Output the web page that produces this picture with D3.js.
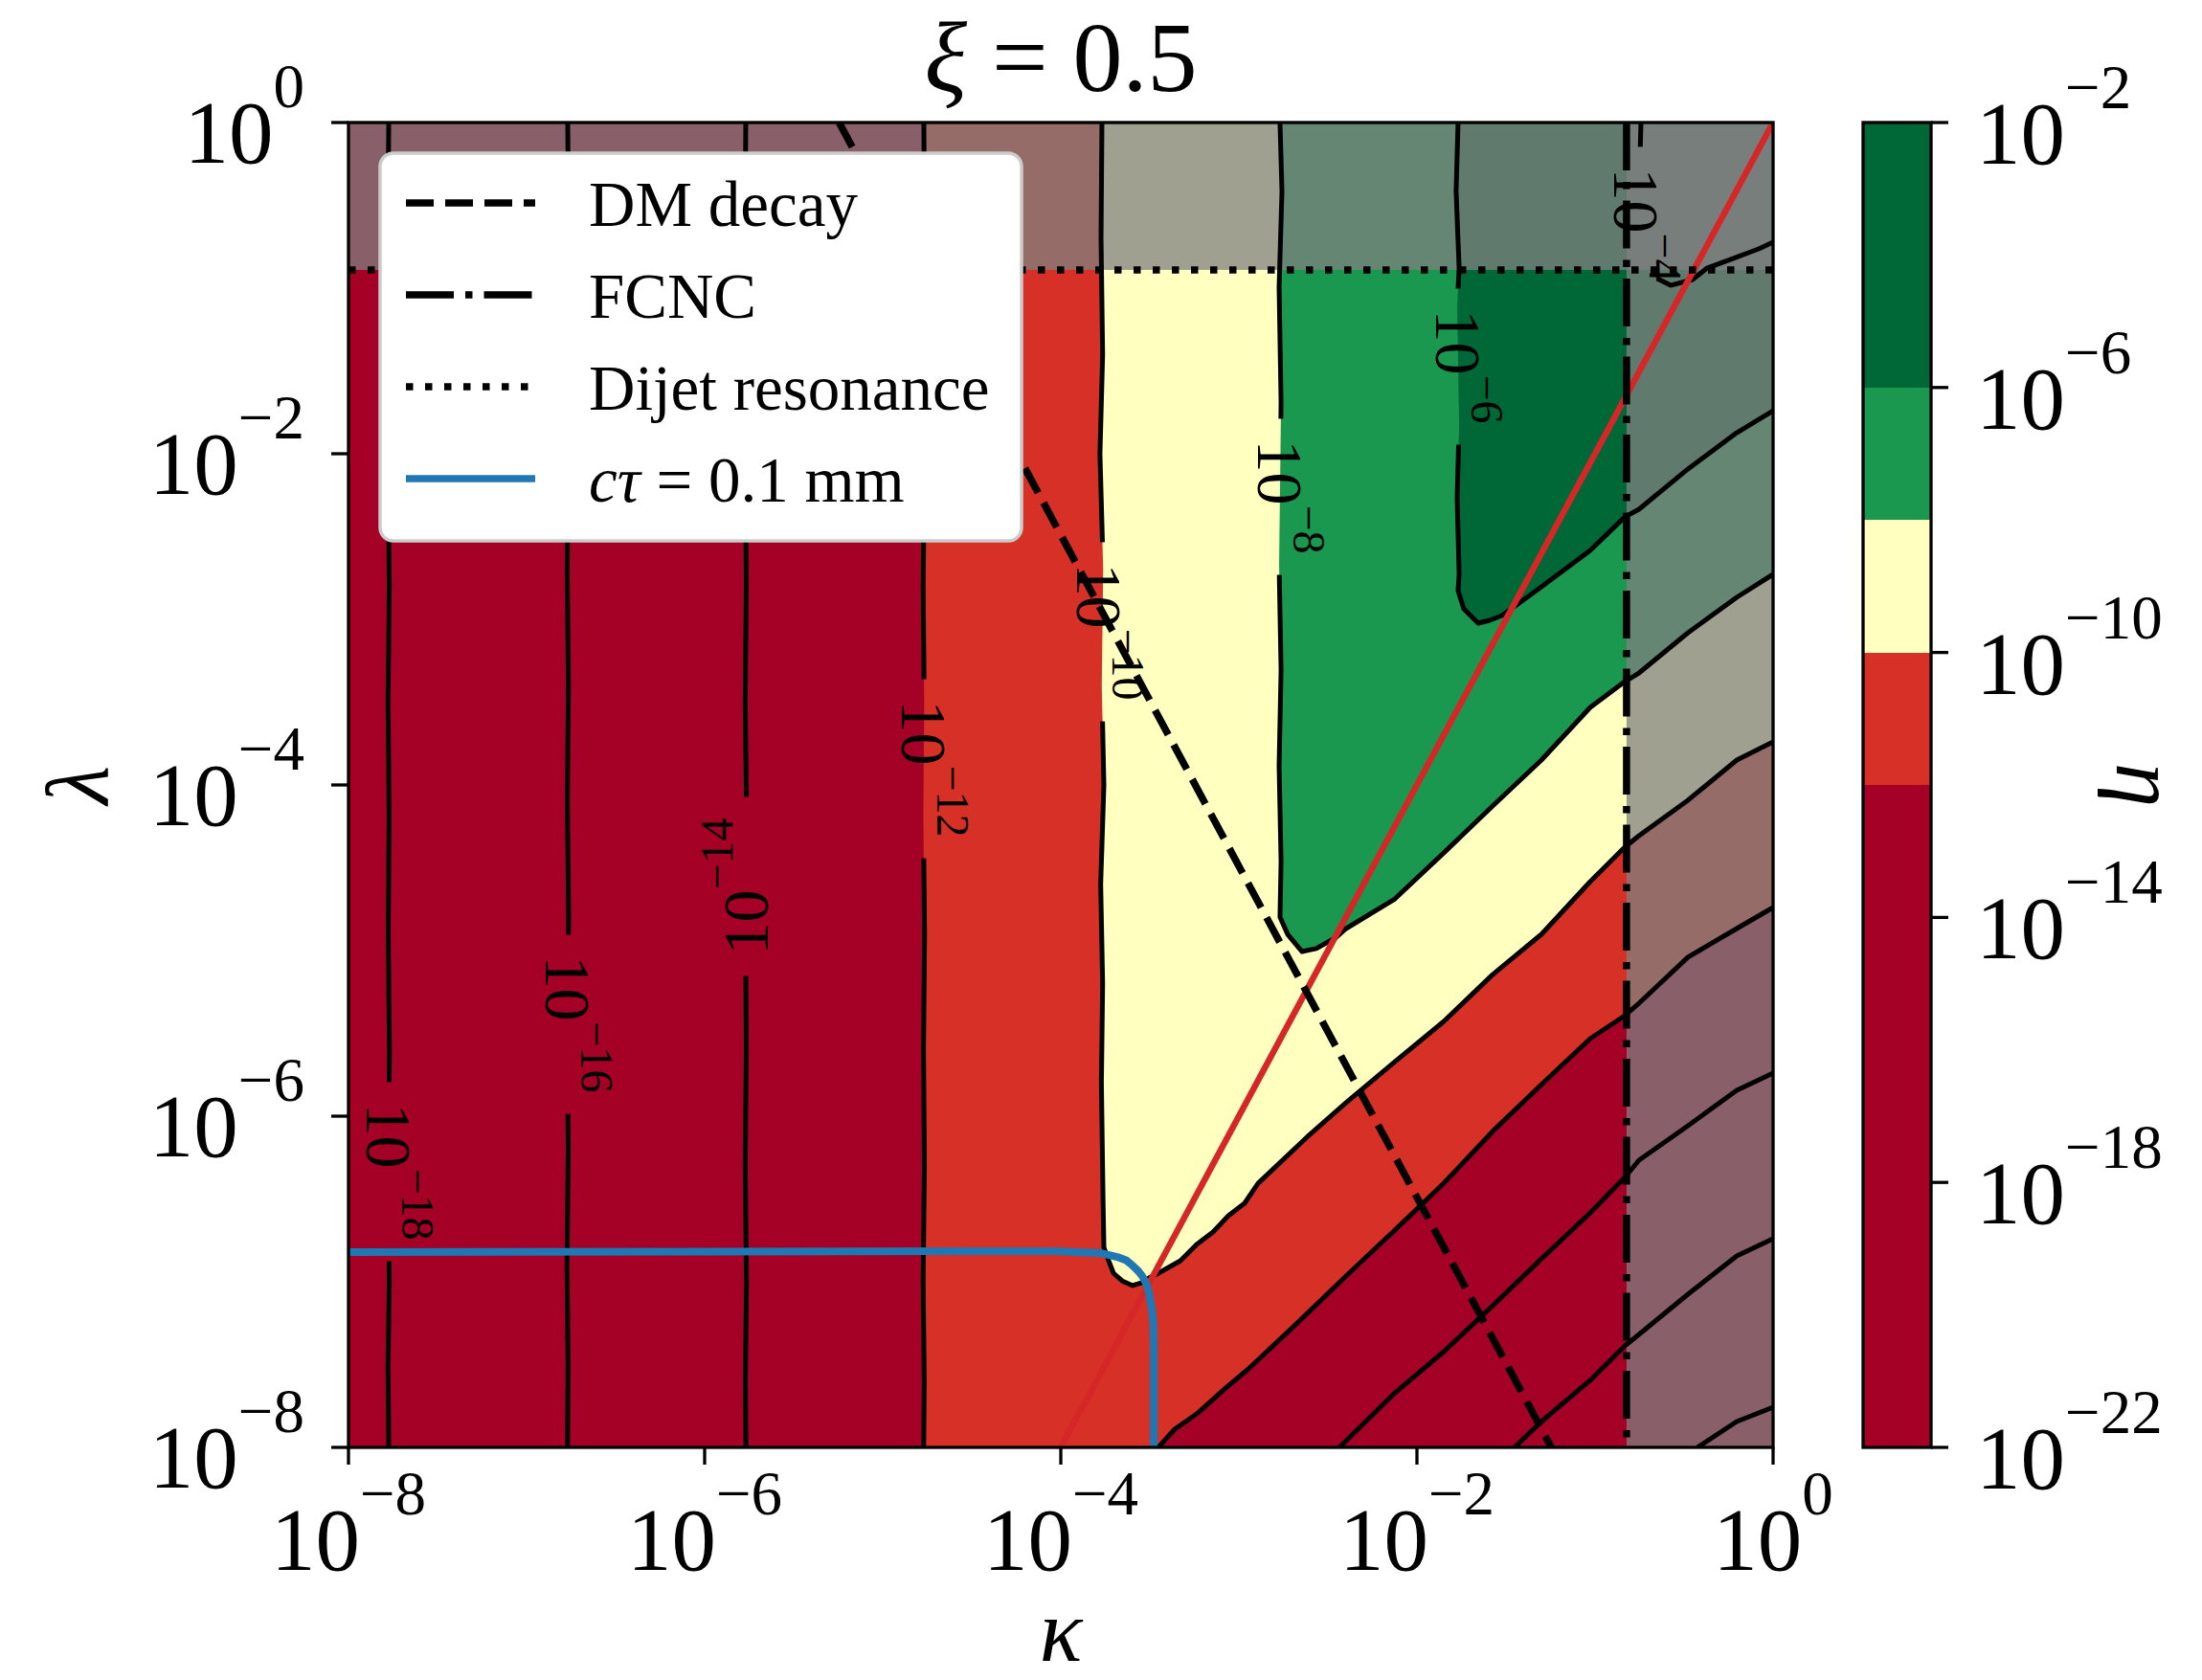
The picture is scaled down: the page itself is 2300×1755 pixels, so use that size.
<!DOCTYPE html>
<html>
<head>
<meta charset="utf-8">
<script src="https://cdn.jsdelivr.net/npm/d3@7"></script>
<style>
  body { margin: 0; background: #fff; }
  svg { display: block; }
  text { font-family: "Liberation Serif", "Times New Roman", serif; fill: #000; }
</style>
</head>
<body>
<svg id="chart" width="2300" height="1755"></svg>
<script>
// all positions below are log10 exponents: [log10 kappa, log10 lambda]
const kappaTicks = [-8, -6, -4, -2, 0];
const lambdaTicks = [-8, -6, -4, -2, 0];
const etaTicks = [-2, -6, -10, -14, -18, -22];
const bandEdges = [-22, -12, -10, -8, -6, -2];
const bandColors = ["#a50026", "#d73027", "#ffffbf", "#1a9850", "#006837"];

// contour lines of eta
const c18v = [[-7.774,0],[-7.779,-0.7],[-7.770,-1.4],[-7.777,-2.1],[-7.771,-2.8],[-7.778,-3.5],[-7.772,-4.2],[-7.777,-4.9],[-7.770,-5.6],[-7.776,-6.3],[-7.771,-7.0],[-7.778,-7.5],[-7.774,-8]];
const c18d = [[-0.425,-8],[-0.204,-7.844],[0,-7.757]];
const c16v = [[-6.769,0],[-6.764,-0.6],[-6.773,-1.3],[-6.766,-2.0],[-6.772,-2.7],[-6.765,-3.4],[-6.771,-4.1],[-6.764,-4.8],[-6.772,-5.5],[-6.766,-6.2],[-6.773,-6.9],[-6.767,-7.5],[-6.770,-8]];
const c16d = [[-1.452,-8],[-1.301,-7.844],[-1.027,-7.595],[-0.833,-7.387],[-0.753,-7.318],[-0.478,-7.075],[-0.204,-6.844],[0,-6.740]];
const c14v = [[-5.769,0],[-5.773,-0.7],[-5.765,-1.4],[-5.771,-2.1],[-5.766,-2.8],[-5.772,-3.5],[-5.764,-4.2],[-5.770,-4.9],[-5.766,-5.6],[-5.772,-6.3],[-5.765,-7.0],[-5.771,-7.6],[-5.768,-8]];
const c14d = [[-2.435,-8],[-2.124,-7.671],[-1.849,-7.422],[-1.575,-7.145],[-1.301,-6.861],[-1.027,-6.584],[-0.833,-6.370],[-0.753,-6.266],[-0.478,-6.058],[-0.204,-5.844],[0,-5.740]];
const c12v = [[-4.769,0],[-4.765,-0.7],[-4.772,-1.4],[-4.766,-2.1],[-4.773,-2.8],[-4.767,-3.5],[-4.772,-4.2],[-4.765,-4.9],[-4.771,-5.6],[-4.766,-6.3],[-4.773,-7.0],[-4.767,-7.6],[-4.770,-8]];
const c12d = [[-3.452,-8],[-3.360,-7.890],[-3.237,-7.798],[-3.075,-7.642],[-2.946,-7.526],[-2.672,-7.249],[-2.398,-6.965],[-2.124,-6.688],[-1.849,-6.405],[-1.575,-6.092],[-1.301,-5.809],[-1.027,-5.532],[-0.833,-5.393],[-0.753,-5.318],[-0.478,-5.040],[-0.204,-4.867],[0,-4.740]];
const c10 = [[-3.769,0],[-3.774,-0.7],[-3.765,-1.4],[-3.780,-2.0],[-3.762,-2.7],[-3.770,-3.4],[-3.758,-4.0],[-3.776,-4.6],[-3.765,-5.2],[-3.772,-5.8],[-3.763,-6.486],[-3.758,-6.792],[-3.731,-6.873],[-3.704,-6.948],[-3.656,-6.994],[-3.597,-7.023],[-3.548,-7.006],[-3.505,-6.977],[-3.452,-6.948],[-3.328,-6.873],[-3.237,-6.775],[-3.145,-6.699],[-3.059,-6.601],[-2.968,-6.526],[-2.892,-6.405],[-2.618,-6.127],[-2.398,-5.919],[-2.124,-5.671],[-1.849,-5.428],[-1.575,-5.145],[-1.301,-4.902],[-1.027,-4.584],[-0.833,-4.376],[-0.753,-4.306],[-0.478,-4.092],[-0.204,-3.850],[0,-3.740]];
const c8 = [[-2.769,0],[-2.758,-0.416],[-2.774,-0.994],[-2.763,-1.688],[-2.774,-2.671],[-2.763,-3.306],[-2.774,-3.884],[-2.763,-4.462],[-2.769,-4.798],[-2.726,-4.902],[-2.645,-5.006],[-2.565,-4.988],[-2.452,-4.919],[-2.398,-4.867],[-2.124,-4.688],[-1.849,-4.410],[-1.575,-4.127],[-1.301,-3.850],[-1.027,-3.532],[-0.833,-3.376],[-0.753,-3.324],[-0.478,-3.081],[-0.204,-2.867],[0,-2.728]];
const c6 = [[-1.769,0],[-1.780,-0.416],[-1.763,-0.879],[-1.774,-1.110],[-1.763,-1.832],[-1.774,-2.266],[-1.763,-2.728],[-1.769,-2.827],[-1.737,-2.936],[-1.656,-3.023],[-1.591,-3.006],[-1.522,-2.977],[-1.301,-2.803],[-1.027,-2.584],[-0.833,-2.382],[-0.753,-2.335],[-0.478,-2.092],[-0.204,-1.873],[0,-1.740]];
const c4 = [[-0.742,0],[-0.747,-0.197],[-0.731,-0.705],[-0.683,-0.925],[-0.575,-0.983],[-0.452,-0.948],[-0.371,-0.879],[-0.226,-0.821],[-0.081,-0.763],[0,-0.723]];

const contourLevels = [-18, -16, -14, -12, -10, -8, -6, -4];
const contourPieces = [[c18v, c18d], [c16v, c16d], [c14v, c14d], [c12v, c12d], [c10], [c8], [c6], [c4]];
const labelPoints = [[-7.774,-6.335],[-6.769,-5.445],[-5.769,-4.613],[-4.769,-3.902],[-3.785,-3.075],[-2.769,-2.260],[-1.769,-1.474],[-0.769,-0.618]];
const labelRotation = [90, 90, -90, 90, 90, 90, 90, 90];

// constraint lines
const dmDecay = [[-5.245,0],[-1.245,-8]];
const fcncKappa = -0.823;
const dijetLambda = -0.89;
const redLine = [[-4,-8],[0,0]];
const lifetime = [[-8,-6.821],[-4.043,-6.815],[-3.774,-6.827],[-3.683,-6.850],[-3.630,-6.872],[-3.597,-6.902],[-3.565,-6.935],[-3.543,-6.965],[-3.520,-7.010],[-3.505,-7.064],[-3.489,-7.162],[-3.480,-7.254],[-3.478,-7.40],[-3.478,-8]];

const legendNames = ["DM decay", "FCNC", "Dijet resonance", "cτ = 0.1 mm"];

const W = 2300, H = 1755;
const pL = 364, pR = 1852, pT = 128, pB = 1512;
const svg = d3.select("#chart");
const defs = svg.append("defs");

const x = d3.scaleLog().domain([1e-8, 1]).range([pL, pR]);
const y = d3.scaleLog().domain([1e-8, 1]).range([pB, pT]);
const px = e => x(Math.pow(10, e));
const py = e => y(Math.pow(10, e));
const line = d3.line().x(d => px(d[0])).y(d => py(d[1]));
const minus = e => e === 0 ? "0" : "\u2212" + Math.abs(e);

function mathLabel(sel, exp, fs, efs, raise) {
  sel.append("tspan").attr("font-size", fs).text("10");
  sel.append("tspan").attr("font-size", efs).attr("dy", -raise).text(minus(exp));
}

defs.append("clipPath").attr("id", "plotclip")
  .append("rect").attr("x", pL).attr("y", pT).attr("width", pR - pL).attr("height", pB - pT);

const plot = svg.append("g").attr("clip-path", "url(#plotclip)");

// filled bands
plot.append("rect").attr("x", pL).attr("y", pT).attr("width", pR - pL).attr("height", pB - pT)
  .attr("fill", bandColors[0]);
[-12, -10, -8, -6].forEach((lvl, i) => {
  const pieces = contourPieces[contourLevels.indexOf(lvl)];
  const poly = [].concat(...pieces, [[0, 0]]);
  plot.append("path").attr("d", line(poly) + "Z").attr("fill", bandColors[i + 1]);
});

// excluded regions
plot.append("rect").attr("x", pL).attr("y", pT).attr("width", pR - pL).attr("height", py(dijetLambda) - pT)
  .attr("fill", "#808080").attr("fill-opacity", 0.75);
plot.append("rect").attr("x", px(fcncKappa)).attr("y", pT).attr("width", pR - px(fcncKappa)).attr("height", pB - pT)
  .attr("fill", "#808080").attr("fill-opacity", 0.75);

// contour lines, broken under their labels
const mask = defs.append("mask").attr("id", "lblmask").attr("maskUnits", "userSpaceOnUse")
  .attr("x", 0).attr("y", 0).attr("width", W).attr("height", H);
mask.append("rect").attr("width", W).attr("height", H).attr("fill", "#fff");

const contourG = plot.append("g").attr("mask", "url(#lblmask)");
contourPieces.forEach(pieces => {
  pieces.forEach(p => {
    contourG.append("path").attr("d", line(p)).attr("fill", "none")
      .attr("stroke", "#000").attr("stroke-width", 5).attr("stroke-linejoin", "round");
  });
});

const labelG = plot.append("g");
contourLevels.forEach((lvl, i) => {
  const ax = px(labelPoints[i][0]), ay = py(labelPoints[i][1]);
  const tr = `translate(${ax},${ay}) rotate(${labelRotation[i]})`;
  const t = labelG.append("text").attr("transform", tr).attr("text-anchor", "middle").attr("y", 23);
  mathLabel(t, lvl, 68, 48, 37);
  const len = t.node().getComputedTextLength();
  mask.append("rect").attr("transform", tr).attr("x", -len / 2 - 22).attr("y", -22)
    .attr("width", len + 44).attr("height", 44).attr("fill", "#000");
});

// overlaid lines
plot.append("path").attr("d", line(redLine)).attr("fill", "none").attr("stroke", "#d62728").attr("stroke-width", 6.5);
plot.append("path").attr("d", line(dmDecay)).attr("fill", "none").attr("stroke", "#000")
  .attr("stroke-width", 7.5).attr("stroke-dasharray", "29 12");
plot.append("path").attr("d", line([[fcncKappa, 0], [fcncKappa, -8]])).attr("fill", "none").attr("stroke", "#000")
  .attr("stroke-width", 7.5).attr("stroke-dasharray", "50 12 7.5 12");
plot.append("path").attr("d", line([[-8, dijetLambda], [0, dijetLambda]])).attr("fill", "none").attr("stroke", "#000")
  .attr("stroke-width", 7.5).attr("stroke-dasharray", "7.5 12.5");
plot.append("path").attr("d", line(lifetime)).attr("fill", "none").attr("stroke", "#1f77b4")
  .attr("stroke-width", 8).attr("stroke-linejoin", "round");

// frame and axes
const axG = svg.append("g");
axG.append("rect").attr("x", pL).attr("y", pT).attr("width", pR - pL).attr("height", pB - pT)
  .attr("fill", "none").attr("stroke", "#000").attr("stroke-width", 3.3);

kappaTicks.forEach(e => {
  axG.append("line").attr("x1", px(e)).attr("x2", px(e)).attr("y1", pB).attr("y2", pB + 18)
    .attr("stroke", "#000").attr("stroke-width", 3.3);
  const t = axG.append("text").attr("x", px(e)).attr("y", 1640).attr("text-anchor", "middle");
  mathLabel(t, e, 93, 65, 58);
});
lambdaTicks.forEach(e => {
  axG.append("line").attr("x1", pL - 18).attr("x2", pL).attr("y1", py(e)).attr("y2", py(e))
    .attr("stroke", "#000").attr("stroke-width", 3.3);
  const t = axG.append("text").attr("x", 318).attr("y", py(e) + 42).attr("text-anchor", "end");
  mathLabel(t, e, 93, 65, 58);
});

axG.append("text").attr("x", (pL + pR) / 2).attr("y", 1735).attr("text-anchor", "middle")
  .attr("font-size", 93).attr("font-style", "italic").text("κ");
axG.append("text").attr("transform", `translate(112,${(pT + pB) / 2}) rotate(-90)`).attr("text-anchor", "middle")
  .attr("font-size", 93).attr("font-style", "italic").text("λ");

const title = svg.append("text").attr("x", (pL + pR) / 2).attr("y", 95).attr("text-anchor", "middle").attr("font-size", 104);
title.append("tspan").attr("font-style", "italic").text("ξ");
title.append("tspan").text(" = 0.5");

// legend
const lg = svg.append("g");
lg.append("rect").attr("x", 397).attr("y", 160).attr("width", 670).attr("height", 405).attr("rx", 14)
  .attr("fill", "#fff").attr("stroke", "#cccccc").attr("stroke-width", 3.5);
const legendDash = ["29 12", "50 12 7.5 12", "7.5 12.5", null];
legendNames.forEach((name, i) => {
  const ly = 212 + i * 96;
  const l = lg.append("line").attr("x1", 424).attr("x2", 559).attr("y1", ly).attr("y2", ly)
    .attr("stroke", i === 3 ? "#1f77b4" : "#000").attr("stroke-width", 7.5);
  if (legendDash[i]) l.attr("stroke-dasharray", legendDash[i]);
  const t = lg.append("text").attr("x", 615).attr("y", ly + 24).attr("font-size", 67);
  if (i === 3) {
    t.append("tspan").attr("font-style", "italic").text("cτ");
    t.append("tspan").text(name.slice(2));
  } else {
    t.text(name);
  }
});

// colorbar
const cbL = 1946, cbR = 2017;
const cy = d3.scaleLog().domain([1e-22, 1e-2]).range([pB, pT]);
const cb = svg.append("g");
for (let i = 0; i < bandColors.length; i++) {
  const y0 = cy(Math.pow(10, bandEdges[i + 1])), y1 = cy(Math.pow(10, bandEdges[i]));
  cb.append("rect").attr("x", cbL).attr("y", y0).attr("width", cbR - cbL).attr("height", y1 - y0)
    .attr("fill", bandColors[i]).attr("shape-rendering", "crispEdges");
}
cb.append("rect").attr("x", cbL).attr("y", pT).attr("width", cbR - cbL).attr("height", pB - pT)
  .attr("fill", "none").attr("stroke", "#000").attr("stroke-width", 3.3);
etaTicks.forEach(e => {
  const ty = cy(Math.pow(10, e));
  cb.append("line").attr("x1", cbR).attr("x2", cbR + 18).attr("y1", ty).attr("y2", ty)
    .attr("stroke", "#000").attr("stroke-width", 3.3);
  const t = cb.append("text").attr("x", 2064).attr("y", ty + 43).attr("text-anchor", "start");
  mathLabel(t, e, 93, 65, 58);
});
cb.append("text").attr("transform", `translate(2211,${(pT + pB) / 2}) rotate(90)`).attr("text-anchor", "middle")
  .attr("font-size", 93).attr("font-style", "italic").text("η");
</script>
</body>
</html>
